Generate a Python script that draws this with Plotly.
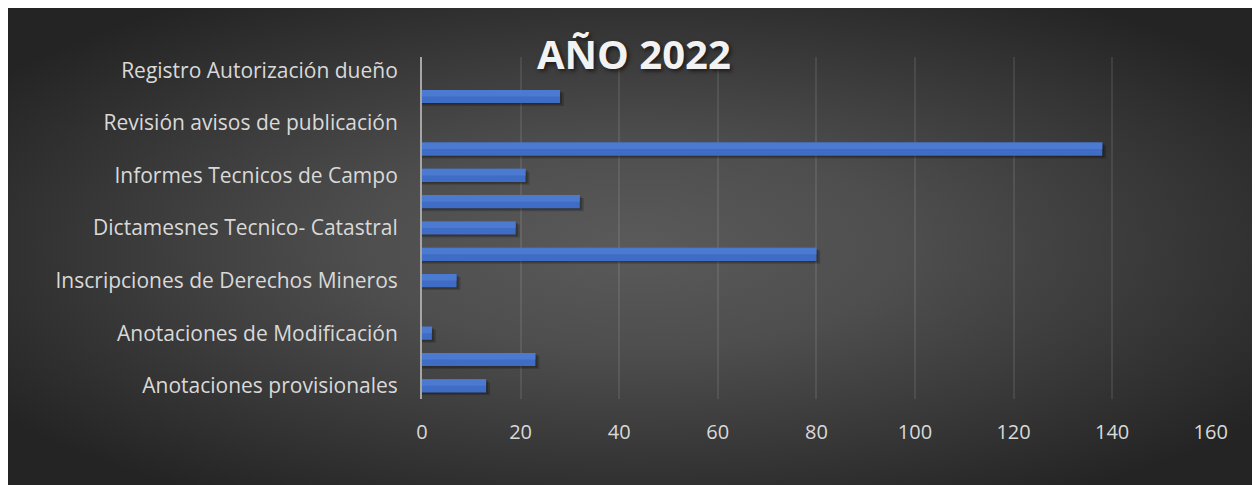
import base64
import plotly.graph_objects as go

# ---- data (bottom to top) ----
categories = [
    "Anotaciones provisionales", "",
    "Anotaciones de Modificación", "",
    "Inscripciones de Derechos Mineros", "",
    "Dictamesnes Tecnico- Catastral", "",
    "Informes Tecnicos de Campo", "",
    "Revisión avisos de publicación", "",
    "Registro Autorización dueño",
]
values = [13, 23, 2, 0, 7, 80, 19, 32, 21, 138, 0, 28, 0]
x_ticks = [0, 20, 40, 60, 80, 100, 120, 140, 160]
title_text = "AÑO 2022"

positions = list(range(len(categories)))
label_pos = [p for p, c in zip(positions, categories) if c]
label_txt = [c for c in categories if c]

# page has an 8px body margin: figure fills the rest of the window
W, H = 1252, 477
L, R, T, B = 414, 49, 49, 86
pw, ph = W - L - R, H - T - B

# ---- background radial gradient (style only) ----
svg = f"""<svg xmlns='http://www.w3.org/2000/svg' width='{W}' height='{H}' viewBox='0 0 {W} {H}'>
<defs><radialGradient id='g' cx='50%' cy='50%' r='62%'>
<stop offset='0' stop-color='#5a5a5a'/>
<stop offset='0.35' stop-color='#4e4e4e'/>
<stop offset='1' stop-color='#242424'/>
</radialGradient></defs>
<rect width='{W}' height='{H}' fill='url(#g)'/></svg>"""
bg_src = "data:image/svg+xml;base64," + base64.b64encode(svg.encode()).decode()

fig = go.Figure()

# soft shadow layers
fig.add_trace(go.Bar(
    x=[v + 0.8 if v else 0 for v in values], y=[p - 0.11 for p in positions],
    orientation="h", width=0.5, marker=dict(color="rgba(0,0,0,0.18)", line_width=0),
    hoverinfo="skip", showlegend=False))
fig.add_trace(go.Bar(
    x=[v + 0.4 if v else 0 for v in values], y=[p - 0.06 for p in positions],
    orientation="h", width=0.5, marker=dict(color="rgba(0,0,0,0.22)", line_width=0),
    hoverinfo="skip", showlegend=False))
# main bars
fig.add_trace(go.Bar(
    x=values, y=positions, orientation="h", width=0.5,
    marker=dict(color="#3f6dc6", line_width=0), showlegend=False))
# lighter top half for gradient look
fig.add_trace(go.Bar(
    x=values, y=[p + 0.125 for p in positions], orientation="h", width=0.25,
    marker=dict(color="#4c7ad0", line_width=0), hoverinfo="skip", showlegend=False))

fig.update_layout(
    width=W, height=H,
    margin=dict(l=L, r=R, t=T, b=B, pad=0),
    paper_bgcolor="#2a2a2a",
    plot_bgcolor="rgba(0,0,0,0)",
    barmode="overlay",
    font=dict(family="Open Sans, sans-serif", color="#d9d9d9", size=21),
    images=[dict(
        source=bg_src, xref="paper", yref="paper",
        x=-L / pw, y=(H - B) / ph,
        sizex=W / pw, sizey=H / ph,
        xanchor="left", yanchor="top", sizing="stretch", layer="below")],
    annotations=[dict(
        text=title_text, xref="paper", yref="paper",
        x=(626 - L) / pw, y=(H - B - 46) / ph,
        xanchor="center", yanchor="middle", showarrow=False,
        font=dict(family="Open Sans, sans-serif", size=40, color="#f2f2f2",
                  weight="bold", shadow="2px 2px 4px rgba(0,0,0,0.6)"))],
)

fig.update_xaxes(
    range=[0, 160.05], tickvals=x_ticks, showgrid=True,
    gridcolor="rgba(255,255,255,0.09)", gridwidth=1.5,
    zeroline=False, showline=False, ticks="",
    ticklabelstandoff=19, tickfont=dict(size=20, color="#d9d9d9"),
)
fig.update_yaxes(
    range=[-0.5, len(categories) - 0.5], tickmode="array",
    tickvals=label_pos, ticktext=label_txt, showgrid=False,
    zeroline=False, showline=True, linecolor="#a6a6a6", linewidth=2,
    ticks="", ticklabelstandoff=18, tickfont=dict(size=21, color="#d9d9d9"),
)

fig.write_html("out.html")
